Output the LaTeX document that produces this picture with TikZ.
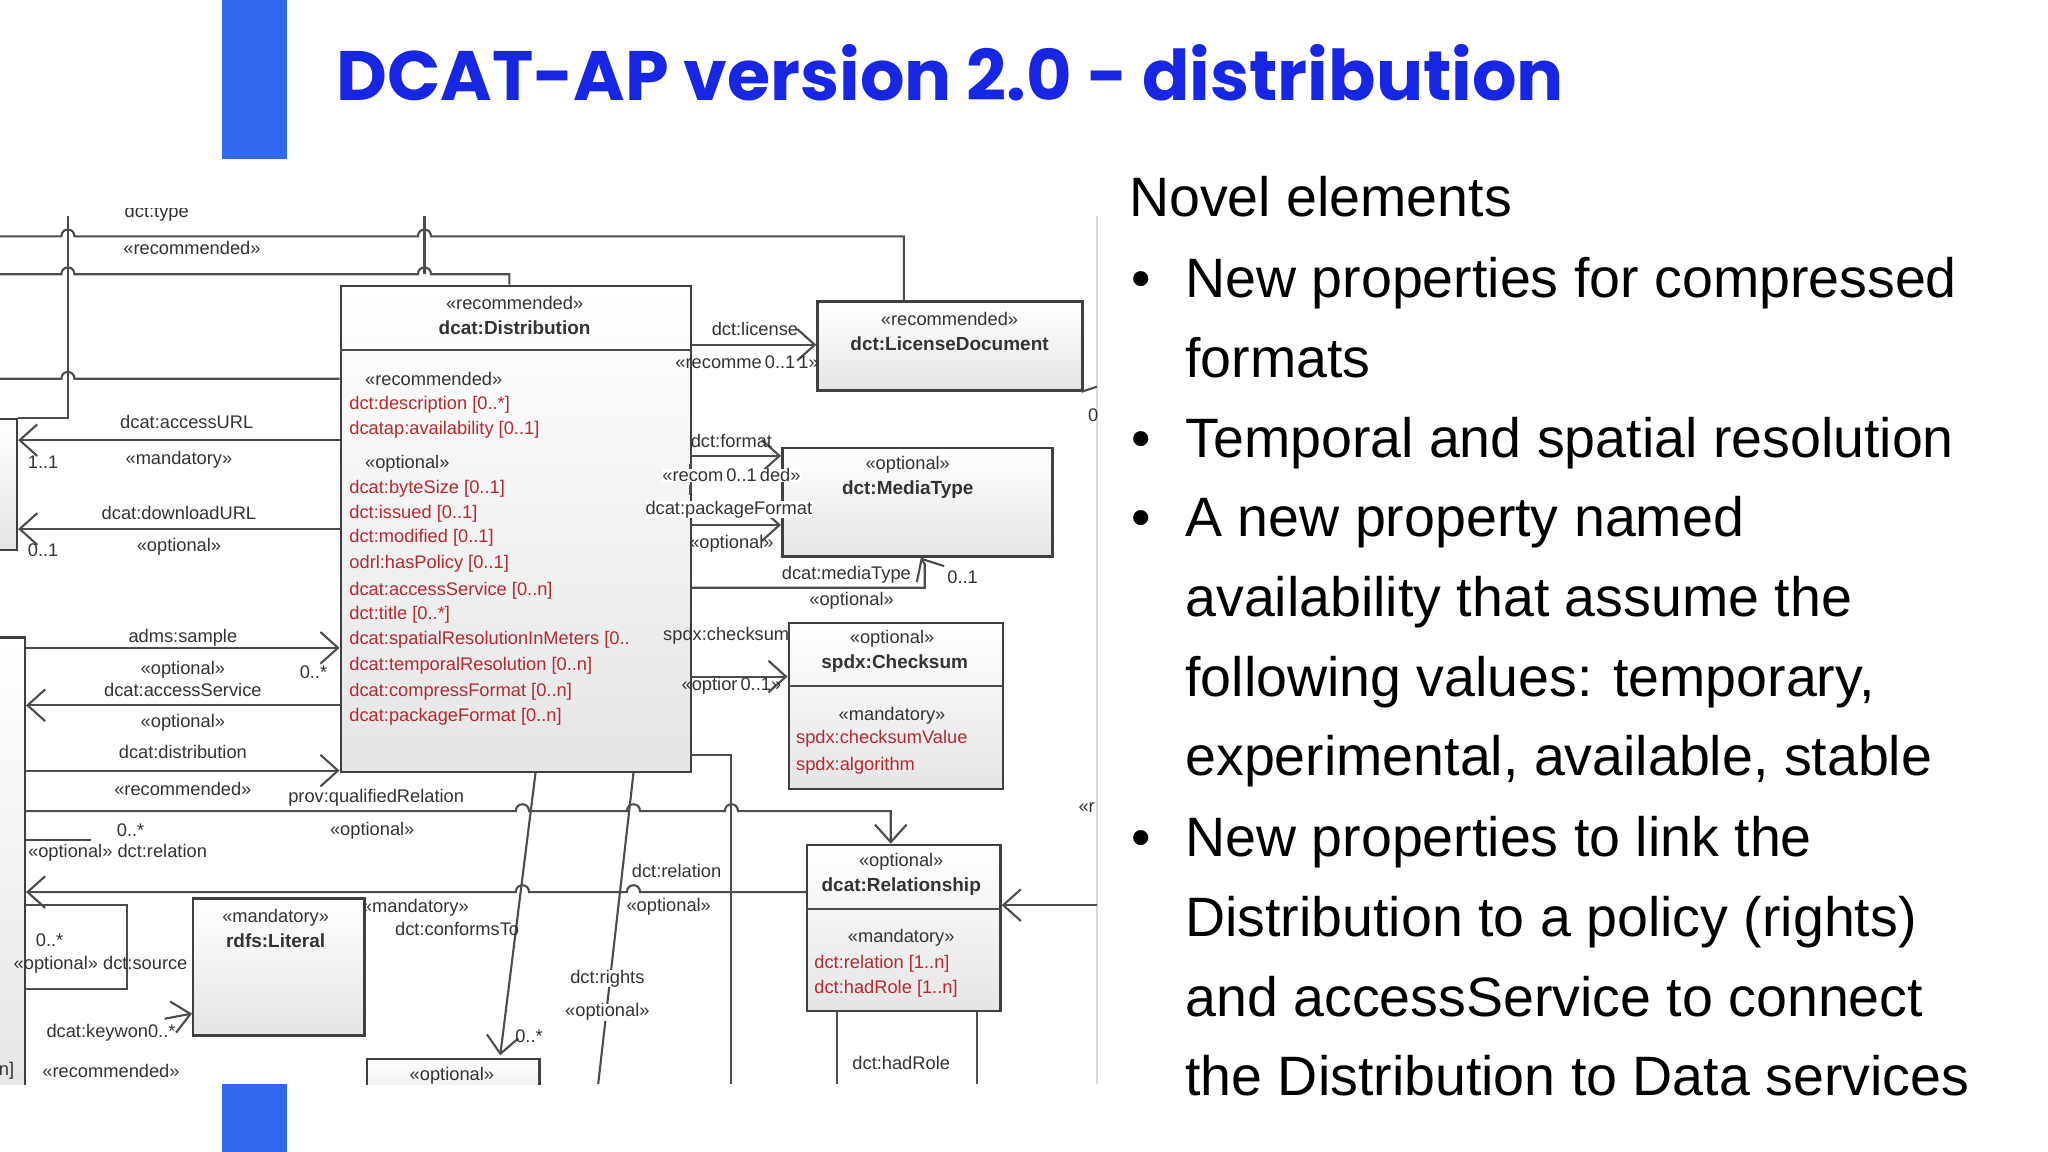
\documentclass[tikz,border=0pt]{standalone}
\usepackage{fontspec}
\setmainfont{Liberation Sans}
\newfontfamily\tfont{Poppins}
\newfontfamily\dfont{Liberation Sans}
\usetikzlibrary{arrows.meta}
\definecolor{titleblue}{RGB}{22,38,226}
\definecolor{barblue}{RGB}{50,104,238}
\definecolor{attr}{RGB}{185,40,45}
\tikzset{
 box/.style={draw=black!75,line width=0.7pt,top color=white,bottom color=black!10,anchor=north west,inner sep=0},
 lab/.style={font=\dfont\fontsize{5.2}{6}\selectfont,inner sep=0,text=black!80},
 red/.style={lab,text=attr,anchor=west},
 hd/.style={lab,font=\dfont\bfseries\fontsize{5.4}{6}\selectfont},
 con/.style={draw=black!70,line width=0.6pt},
 arr/.style={con,-{Straight Barb[length=5pt,width=9pt]}},
 bul/.style={font=\fontsize{15.8}{18}\selectfont,anchor=base west,inner sep=0},
}
\def\U{0.01306cm}
\begin{document}
\begin{tikzpicture}[x=0.01306cm,y=-0.01306cm]
\useasboundingbox (0,0) rectangle (1568,882);
\fill[white] (0,0) rectangle (1568,882);
\fill[barblue] (170,0) rectangle (220,122);
\fill[barblue] (170,830) rectangle (220,882);
\node[anchor=base west,inner sep=0,text=titleblue,font=\tfont\bfseries\fontsize{19.9}{24}\selectfont] (title) at (257,77) {DCAT-AP version 2.0 - distribution};
% right text
\node[bul] (t0) at (864,166) {Novel elements};
\foreach \yy/\tx [count=\i] in {228/New properties for compressed,289/formats,350/Temporal and spatial resolution,411/A new property named,472/availability that assume the,533/{following values: temporary,},594/{experimental, available, stable},656/New properties to link the,717/Distribution to a policy (rights),778/and accessService to connect,839/the Distribution to Data services}
  \node[bul] (r\i) at (907,\yy) {\tx};
\foreach \yy [count=\i] in {228,350,411,656}
  \node[bul] (b\i) at (866,\yy) {•};
% diagram
\draw[black!15] (840,165) -- (840,830);
\begin{scope}
\clip (0,160) rectangle (840,830);
% boxes
\node[box,minimum width=268*\U,minimum height=372*\U] (dist) at (260,218) {};
\draw[con] (260,268) -- (528,268);
\node[box,minimum width=203*\U,minimum height=68*\U] (lic) at (625,230) {};
\node[box,minimum width=207*\U,minimum height=83*\U] (med) at (598,342) {};
\node[box,minimum width=164*\U,minimum height=127*\U] (chk) at (603,476) {};
\draw[con] (603,525) -- (767,525);
\node[box,minimum width=148*\U,minimum height=127*\U] (rel) at (617,646) {};
\draw[con] (617,696) -- (765,696);
\node[box,minimum width=131*\U,minimum height=105*\U] (lit) at (147,687) {};
\node[box,minimum width=132*\U,minimum height=40*\U] (bot) at (280,810) {};
\node[box,minimum width=24*\U,minimum height=100*\U] (lb1) at (-12,320) {};
\node[box,minimum width=30*\U,minimum height=360*\U] (lb2) at (-12,487) {};
% box texts
\node[lab] (d1) at (394,232) {«recommended»};
\node[hd] (d2) at (394,251) {dcat:Distribution};
\node[lab,anchor=west] (d3) at (279,290) {«recommended»};
\node[red] (a1) at (267,310) {dct:description [0..*]};
\node[red] (a2) at (267,329) {dcatap:availability [0..1]};
\node[lab,anchor=west] (d4) at (279,355) {«optional»};
\foreach \yy/\tx [count=\i] in {374/dcat:byteSize [0..1],393/dct:issued [0..1],412/dct:modified [0..1],432/odrl:hasPolicy [0..1],452/dcat:accessService [0..n],471/dct:title [0..*],490/dcat:spatialResolutionInMeters [0..,510/dcat:temporalResolution [0..n],530/dcat:compressFormat [0..n],549/dcat:packageFormat [0..n]}
  \node[red] (o\i) at (267,\yy) {\tx};
\node[lab] (l1) at (727,244) {«recommended»};
\node[hd] (l2) at (727,263) {dct:LicenseDocument};
\node[lab] (m1) at (695,356) {«optional»};
\node[hd] (m2) at (695,375) {dct:MediaType};
\node[lab] (c1) at (683,489) {«optional»};
\node[hd] (c2) at (685,508) {spdx:Checksum};
\node[lab] (c3) at (683,548) {«mandatory»};
\node[red] (c4) at (609,566) {spdx:checksumValue};
\node[red] (c5) at (609,586) {spdx:algorithm};
\node[lab] (e1) at (690,660) {«optional»};
\node[hd] (e2) at (690,679) {dcat:Relationship};
\node[lab] (e3) at (690,718) {«mandatory»};
\node[red] (e4) at (623,738) {dct:relation [1..n]};
\node[red] (e5) at (623,757) {dct:hadRole [1..n]};
\node[lab] (i1) at (211,703) {«mandatory»};
\node[hd] (i2) at (211,720) {rdfs:Literal};
\node[lab] (q1) at (346,824) {«optional»};
% top connectors with jumps
\draw[con] (0,181) -- (47,181) .. controls (47,174) and (57,174) .. (57,181) -- (320,181) .. controls (320,174) and (330,174) .. (330,181) -- (692,181) -- (lic.north -| 692,0);
\draw[con] (0,210) -- (47,210) .. controls (47,203) and (57,203) .. (57,210) -- (320,210) .. controls (320,203) and (330,203) .. (330,210) -- (390,210) -- (dist.north -| 390,0);
\draw[con] (52,165) -- (52,320) -- (14,320);
\draw[con] (325,165) -- (325,210);
\draw[con] (0,290) -- (47,290) .. controls (47,283) and (57,283) .. (57,290) -- (dist.west |- 0,290);
\node[lab] (k0) at (120,163) {dct:type};
\node[lab] (k1) at (147,190) {«recommended»};
% left connectors
\draw[arr] (dist.west |- 0,337) -- (lb1.east |- 0,337);
\node[lab] (k2) at (143,323) {dcat:accessURL};
\node[lab] (k3) at (137,352) {«mandatory»};
\node[lab] (k4) at (33,354) {1..1};
\draw[arr] (dist.west |- 0,405) -- (lb1.east |- 0,405);
\node[lab] (k5) at (137,393) {dcat:downloadURL};
\node[lab] (k6) at (137,419) {«optional»};
\node[lab] (k7) at (33,421) {0..1};
\draw[arr] (lb2.east |- 0,496) -- (dist.west |- 0,496);
\node[lab] (k8) at (140,488) {adms:sample};
\node[lab] (k9) at (240,515) {0..*};
\draw[arr] (dist.west |- 0,540) -- (lb2.east |- 0,540);
\node[lab] (k10) at (140,513) {«optional»};
\node[lab] (k11) at (140,528) {dcat:accessService};
\draw[arr] (lb2.east |- 0,590) -- (dist.west |- 0,590);
\node[lab] (k12) at (140,553) {«optional»};
\node[lab] (k13) at (140,576) {dcat:distribution};
% qualifiedRelation
\draw[arr] (lb2.east |- 0,621) -- (395,621) .. controls (395,614) and (405,614) .. (405,621) -- (480,621) .. controls (480,614) and (490,614) .. (490,621) -- (555,621) .. controls (555,614) and (565,614) .. (565,621) -- (682,621) -- (rel.north -| 682,0);
\node[lab] (k14) at (140,604) {«recommended»};
\node[lab] (k15) at (288,611) {prov:qualifiedRelation};
\node[lab] (k16) at (285,636) {«optional»};
% dct:relation
\draw[arr] (rel.west |- 0,683) -- (490,683) .. controls (490,676) and (480,676) .. (480,683) -- (405,683) .. controls (405,676) and (395,676) .. (395,683) -- (lb2.east |- 0,683);
\draw[con] (lb2.east |- 0,643) -- (70,643);
\draw[con] (lb2.east |- 0,693) -- (97,693) -- (97,757) -- (lb2.east |- 0,757);
\node[lab] (k17) at (100,636) {0..*};
\node[lab] (k18) at (90,653) {«optional» dct:relation};
\node[lab] (k19) at (518,667) {dct:relation};
\node[lab] (k20) at (512,694) {«optional»};
\node[lab] (k21) at (38,720) {0..*};
\node[lab] (k22) at (77,739) {«optional» dct:source};
\draw[arr] (126,780) -- (lit.west |- 0,776);
\node[lab] (k23) at (85,791) {dcat:keywon0..*};
\node[lab] (k24) at (85,820) {«recommended»};
\node[lab] (k25) at (5,820) {n]};
% downward
\draw[arr] (dist.south -| 410,0) -- (383,808);
\node[lab] (k26) at (318,695) {«mandatory»};
\node[lab] (k27) at (350,711) {dct:conformsTo};
\node[lab] (k28) at (405,793) {0..*};
\draw[con] (dist.south -| 485,0) -- (458,830);
\node[lab,fill=white] (k29) at (465,749) {dct:rights};
\node[lab,fill=white] (k30) at (465,775) {«optional»};
\draw[con] (dist.east |- 0,578) -- (560,578) -- (560,830);
% right side connectors
\draw[arr] (dist.east |- 0,264) -- (lic.west |- 0,264);
\node[lab] (k31) at (578,252) {dct:license};
\node[lab] (k32) at (572,277) {«recomme\,0..1\,1»};
\draw[arr] (528,349) -- (med.west |- 0,349);
\draw[arr] (528,402) -- (med.west |- 0,402);
\draw[con,dashed] (528,355) -- (528,396);
\node[lab] (k33) at (560,338) {dct:format};
\node[lab,fill=white] (k34) at (560,364) {«recom\,0..1\,ded»};
\node[lab,fill=white] (k35) at (558,390) {dcat:packageFormat};
\node[lab] (k36) at (560,416) {«optional»};
\draw[arr] (dist.east |- 0,450) -- (598,450) -- (708,450) -- (708,432) -- (med.south -| 705,0);
\node[lab] (k37) at (648,440) {dcat:mediaType};
\node[lab,fill=white] (k38) at (652,460) {«optional»};
\node[lab] (k39) at (737,442) {0..1};
\draw[arr] (dist.east |- 0,518) -- (chk.west |- 0,518);
\node[lab] (k40) at (556,487) {spdx:checksum};
\node[lab] (k41) at (560,525) {«optior\,0..1»};
\draw[arr] (845,693) -- (rel.east |- 0,693);
\draw[con] (rel.south -| 641,0) -- (641,830);
\draw[con] (rel.south -| 748,0) -- (748,830);
\node[lab] (k42) at (690,814) {dct:hadRole};
\node[lab] (k43) at (832,618) {«r};
\node[lab] (k44) at (837,318) {0};
\draw[con] (828,300) -- (840,296);
\end{scope}
\end{tikzpicture}
\end{document}
